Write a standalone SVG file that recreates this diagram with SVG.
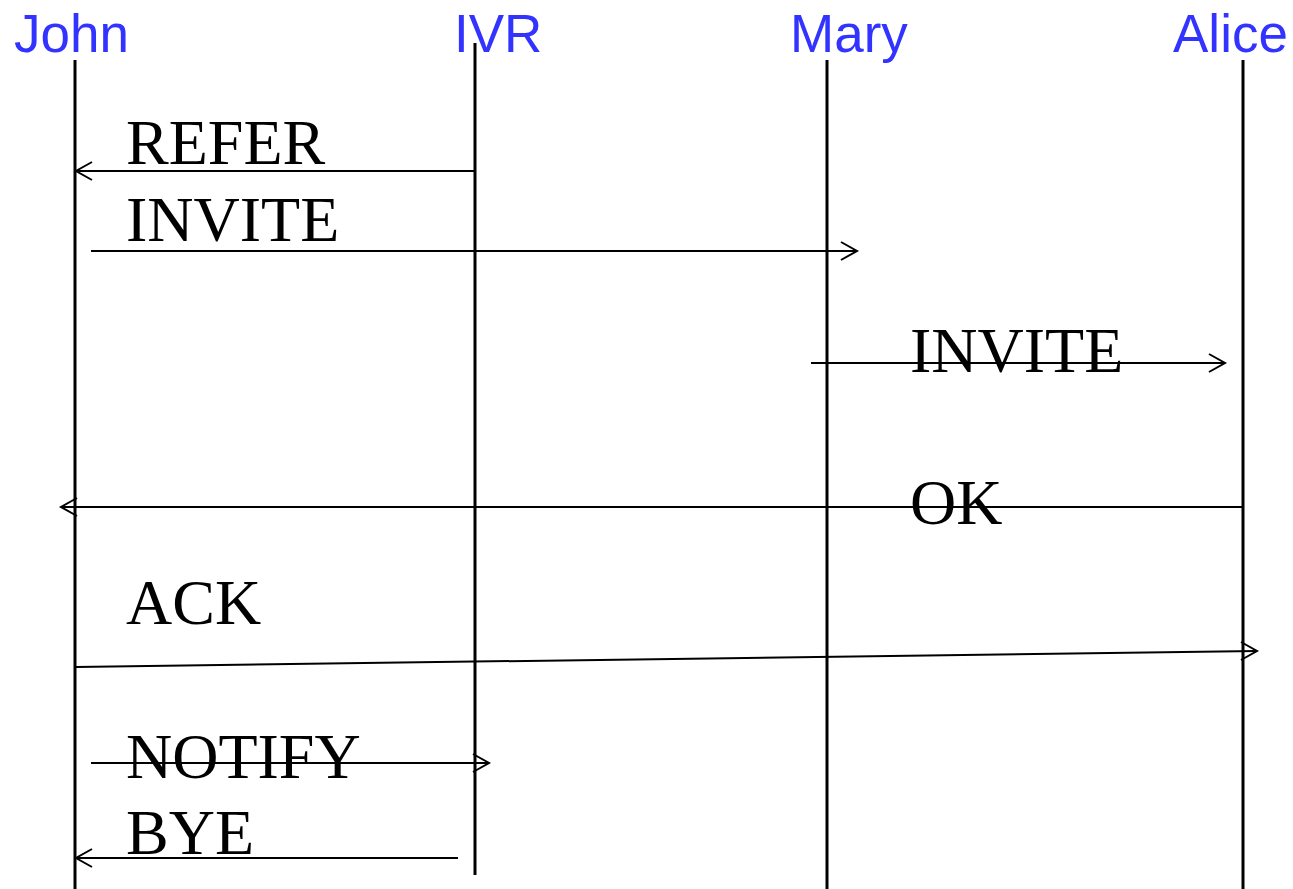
<svg xmlns="http://www.w3.org/2000/svg" width="1293" height="889" viewBox="0 0 1293 889">
<style>
.actor{font-family:"Liberation Sans",Arial,sans-serif;font-size:53px;fill:#3333ff}
.life{stroke:#000;stroke-width:3;fill:none}
.msg{stroke:#000;stroke-width:2;fill:none}
.head{stroke:#000;stroke-width:2;fill:none}
.lbl{font-family:"Liberation Serif","Times New Roman",serif;font-size:64px;fill:#000}
</style>
<rect width="1293" height="889" fill="#fff"/>
<g id="john"><text class="actor" x="14" y="52">John</text><line class="life" x1="75" y1="60" x2="75" y2="889"/></g>
<g id="ivr"><text class="actor" x="454" y="52">IVR</text><line class="life" x1="475" y1="43" x2="475" y2="875"/></g>
<g id="mary"><text class="actor" x="790" y="52">Mary</text><line class="life" x1="827" y1="60" x2="827" y2="889"/></g>
<g id="alice"><text class="actor" x="1173" y="52">Alice</text><line class="life" x1="1243" y1="60" x2="1243" y2="889"/></g>
<g id="connectors">
<line class="msg" x1="475" y1="171" x2="76" y2="171"/><polyline class="head" points="92,162 76,171 92,180"/>
<line class="msg" x1="91" y1="251" x2="857" y2="251"/><polyline class="head" points="841,242 857,251 841,260"/>
<line class="msg" x1="811" y1="363" x2="1225" y2="363"/><polyline class="head" points="1209,354 1225,363 1209,372"/>
<line class="msg" x1="1243" y1="507" x2="61" y2="507"/><polyline class="head" points="77,498 61,507 77,516"/>
<line class="msg" x1="76" y1="667" x2="1257" y2="651"/><polyline class="head" points="1241,642 1257,651 1241,660"/>
<line class="msg" x1="91" y1="763" x2="489" y2="763"/><polyline class="head" points="473,754 489,763 473,772"/>
<line class="msg" x1="458" y1="858" x2="76" y2="858"/><polyline class="head" points="92,849 76,858 92,867"/>
</g>
<g id="labels">
<text class="lbl" x="126" y="164">REFER</text>
<text class="lbl" x="126" y="241">INVITE</text>
<text class="lbl" x="910" y="372">INVITE</text>
<text class="lbl" x="910" y="524">OK</text>
<text class="lbl" x="126" y="624">ACK</text>
<text class="lbl" x="126" y="778">NOTIFY</text>
<text class="lbl" x="126" y="854">BYE</text>
</g>
</svg>
